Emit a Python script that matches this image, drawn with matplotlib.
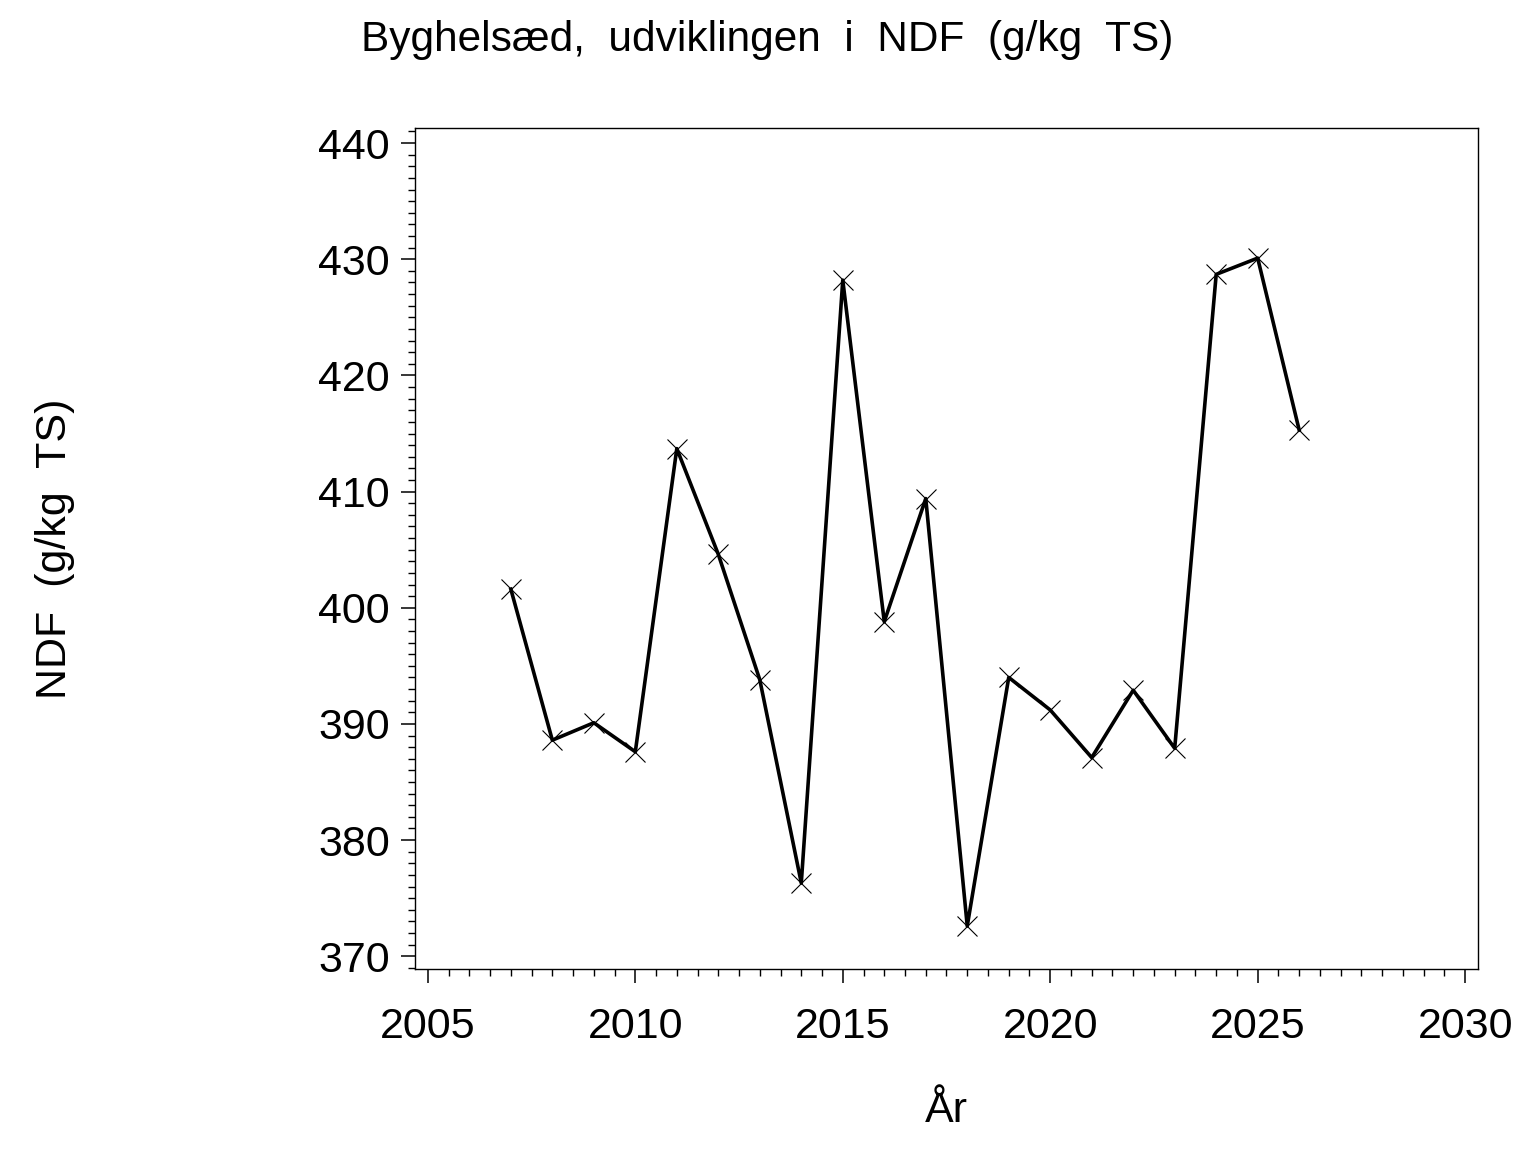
import matplotlib
matplotlib.use('Agg')
import matplotlib.pyplot as plt
from matplotlib.ticker import MultipleLocator

plt.rcParams['font.family'] = ['Liberation Sans', 'DejaVu Sans']

# data
years = [2007, 2008, 2009, 2010, 2011, 2012, 2013, 2014, 2015, 2016,
         2017, 2018, 2019, 2020, 2021, 2022, 2023, 2024, 2025, 2026]
ndf = [401.6, 388.6, 390.1, 387.6, 413.7, 404.6, 393.8, 376.3, 428.2, 398.8,
       409.4, 372.6, 394.0, 391.2, 387.1, 392.9, 387.9, 428.7, 430.1, 415.3]

title = 'Byghelsæd,  udviklingen  i  NDF  (g/kg  TS)'
xlabel = 'År'
ylabel = 'NDF  (g/kg  TS)'

fig = plt.figure(figsize=(15.36, 11.52), dpi=100)
ax = fig.add_axes([415/1536, 1 - 969/1152, (1478 - 415)/1536, (969 - 128)/1152])

ax.plot(years, ndf, color='black', lw=2.6, marker='x', ms=14, mew=0.8, mec='black')

ax.set_xlim(2004.69, 2030.31)
ax.set_ylim(368.9, 441.3)
ax.xaxis.set_major_locator(MultipleLocator(5))
ax.xaxis.set_minor_locator(MultipleLocator(0.5))
ax.yaxis.set_major_locator(MultipleLocator(10))
ax.yaxis.set_minor_locator(MultipleLocator(1))

ax.tick_params(which='major', direction='out', length=10, width=1.1, labelsize=31, pad=8)
ax.tick_params(which='minor', direction='out', length=5, width=1.0)
ax.tick_params(axis='x', which='major', pad=17)
for s in ax.spines.values():
    s.set_linewidth(1.0)

ax.set_xlabel(xlabel, fontsize=31, labelpad=32)
ax.set_ylabel(ylabel, fontsize=31, labelpad=175)
fig.text(767/1536, 1 - 40/1152, title, fontsize=30.5, ha='center', va='center')

fig.savefig('out.png', dpi=100)
